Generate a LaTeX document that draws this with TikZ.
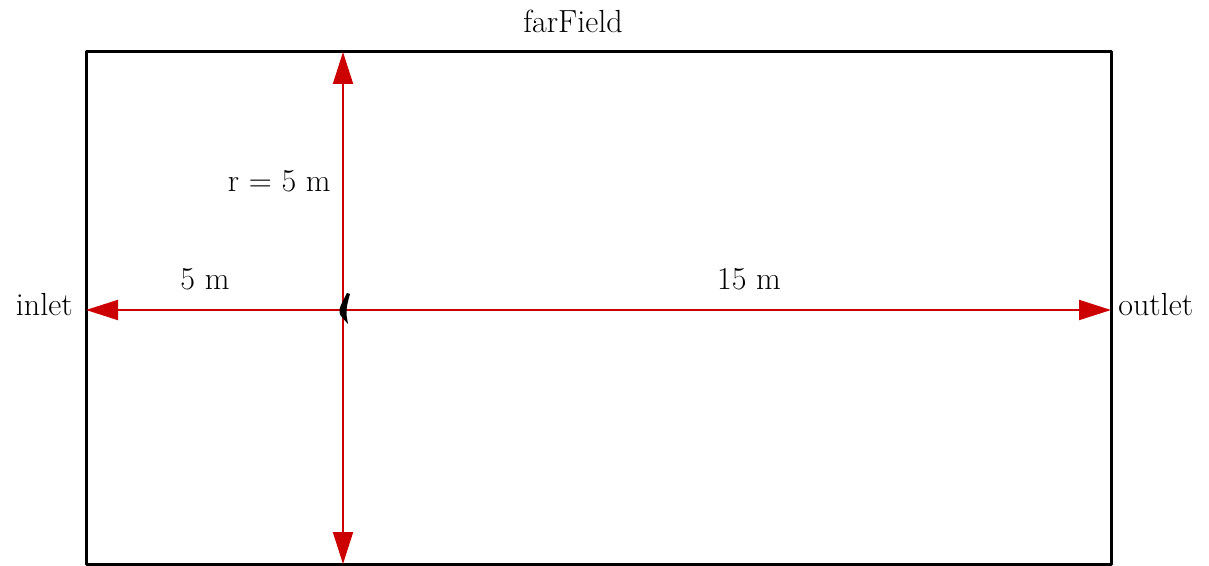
\documentclass[tikz,border=0pt]{standalone}
\usetikzlibrary{arrows.meta}
\begin{document}
\begin{tikzpicture}[x=0.5pt,y=-0.5pt,
  frame/.style={line width=1.5pt, line join=round},
  dimarrow/.style={draw={rgb,255:red,204;green,0;blue,0}, line width=1pt,
    -{Triangle[length=16pt,width=10pt]}, fill={rgb,255:red,204;green,0;blue,0}},
  lbl/.style={font=\fontsize{16}{18}\selectfont, inner sep=0pt}]
\useasboundingbox (0,0) rectangle (1209,566);
\coordinate (nw) at (86,52);
\coordinate (se) at (1111,564);
\coordinate (c) at (343,310);
\coordinate (top) at (343,52);
\coordinate (bot) at (343,564);
\coordinate (in) at (86,310);
\coordinate (out) at (1111,310);
\draw[frame] (nw) rectangle (se);
\draw[dimarrow] (c) -- (top);
\draw[dimarrow] (c) -- (bot);
\draw[dimarrow] (c) -- (in);
\draw[dimarrow] (c) -- (out);
\fill (347,293) .. controls (344,299) and (341,304) .. (339.5,309)
  .. controls (339,314) and (341,317) .. (343.5,319) -- (348,324)
  -- (346.5,315) .. controls (346,308) and (348,301) .. (350,294) -- cycle;
\node[lbl, anchor=base] (ff) at (573,33) {farField};
\node[lbl, anchor=base east] (inl) at (73,316) {inlet};
\node[lbl, anchor=base west] (outl) at (1118,316) {outlet};
\node[lbl, anchor=base] (l5) at (205,290) {5 m};
\node[lbl, anchor=base] (l15) at (749,290) {15 m};
\node[lbl, anchor=base east] (lr) at (331,192) {r = 5 m};
\end{tikzpicture}
\end{document}
